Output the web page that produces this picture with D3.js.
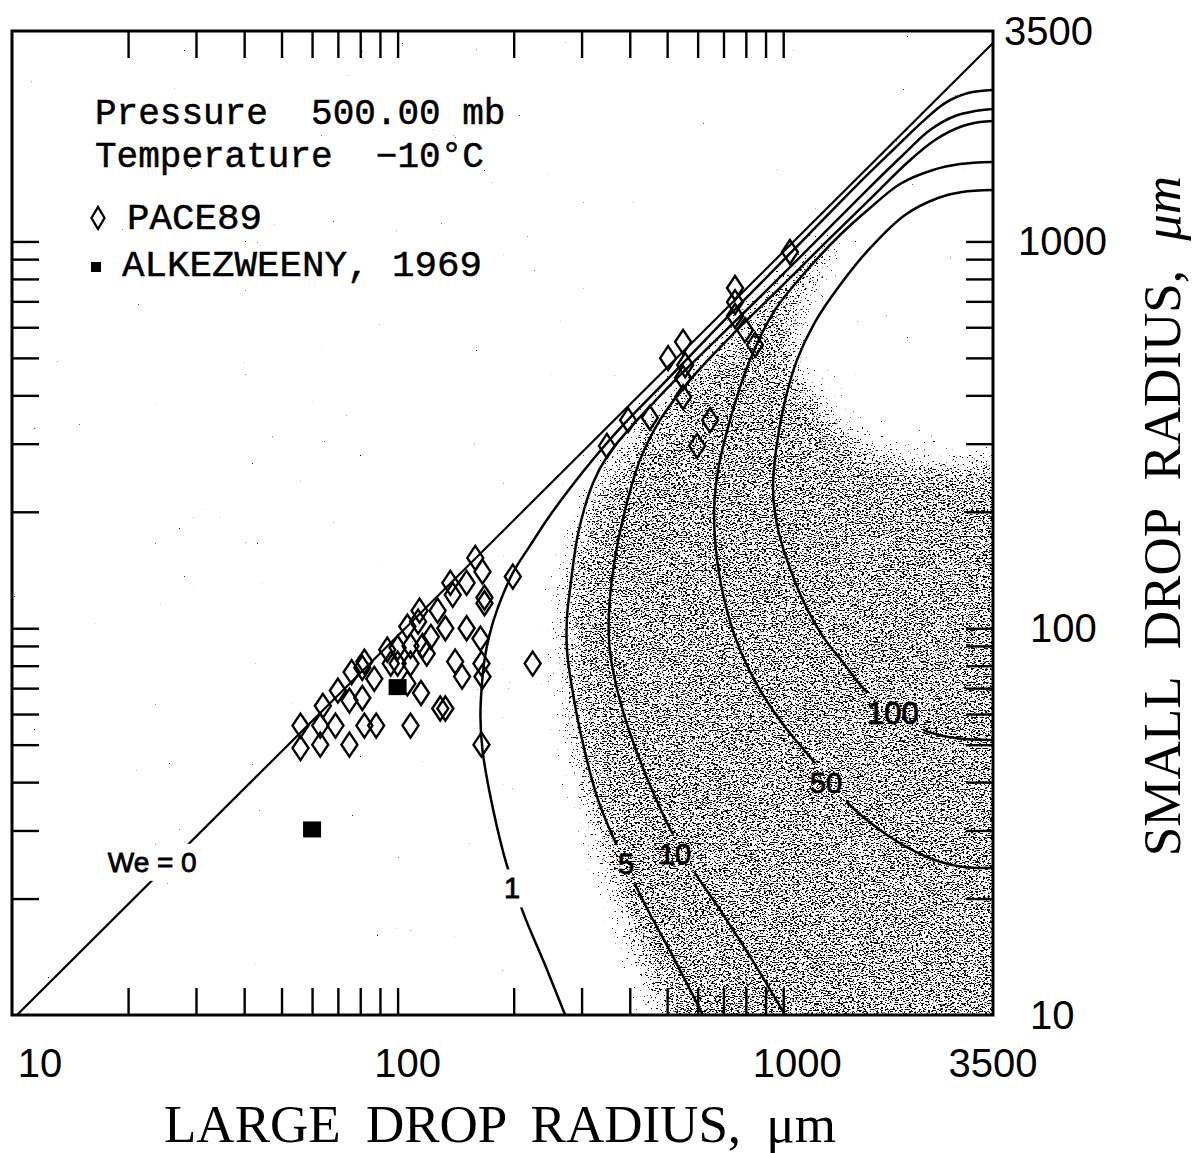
<!DOCTYPE html>
<html>
<head>
<meta charset="utf-8">
<script src="https://cdn.jsdelivr.net/npm/d3@7"></script>
<style>
  html, body { margin: 0; padding: 0; background: #fff; }
  svg { display: block; }
</style>
</head>
<body>
<svg id="chart" width="1196" height="1153"></svg>
<script>
// ---------------- data (radii in micrometres) ----------------
const radiusDomain = [10, 3500];
const minorTicks = [20, 30, 40, 50, 60, 70, 80, 90, 100, 200, 300, 400, 500, 600, 700, 800, 900, 1000];
const xTickLabels = ["10", "100", "1000", "3500"];
const yTickLabels = ["10", "100", "1000", "3500"];

// Weber-number contours: [large drop radius, small drop radius]
const weZero = [[10.3, 10], [3500, 3260]];
const weOne = [[272, 10], [241, 13.5], [213, 18.1], [192, 24.4], [177, 33.9], [166, 48.4], [164, 58.9], [165, 69.2],
  [168, 82.8], [173, 96], [182, 113], [199, 139], [221, 164], [246, 193], [280, 230], [323, 275], [384, 335],
  [491, 431], [646, 573], [866, 772], [1160, 1039], [1554, 1399], [1950, 1744], [2291, 2035], [2628, 2279],
  [3015, 2419], [3500, 2463]];
const weFive = [[619, 10], [515, 14.3], [438, 19.3], [375, 26.7], [331, 36], [301, 51.4], [282, 72.2], [275, 87.8],
  [275, 107], [280, 126], [294, 176], [321, 237], [351, 280], [396, 325], [460, 382], [540, 451], [678, 563],
  [908, 749], [1224, 1008], [1629, 1342], [2045, 1673], [2403, 1941], [2790, 2110], [3145, 2174], [3500, 2200]];
const weTen = [[1011, 10], [830, 13.9], [686, 18.7], [584, 23.7], [503, 31], [425, 45.6], [377, 65.2], [355, 87.8],
  [353, 107], [364, 146], [389, 202], [425, 272], [479, 345], [573, 438], [728, 566], [969, 749], [1291, 996],
  [1700, 1302], [2107, 1605], [2476, 1829], [2874, 1976], [3239, 2035], [3500, 2048]];
const weFifty = [[3500, 1605], [2874, 1585], [2447, 1530], [2009, 1408], [1680, 1220], [1404, 1039], [1153, 843],
  [952, 665], [820, 494], [728, 345], [678, 257], [662, 202], [674, 150], [715, 111], [773, 87.8], [871, 69.2],
  [1011, 55.5], [1173, 46.5], [1499, 34.7], [1782, 30.1], [2132, 26.9], [2550, 24.9], [2962, 24.1], [3500, 24.0]];
const weHundred = [[3500, 1358], [2909, 1342], [2521, 1295], [2070, 1171], [1680, 961], [1404, 772], [1209, 619],
  [1086, 494], [1005, 378], [958, 289], [941, 228], [964, 185], [1023, 150], [1126, 118], [1261, 96], [1447, 80.3],
  [1649, 68.4], [2305, 54.6], [2790, 52], [3500, 51.4]];

// contour labels: text and the point on the curve where it sits
const contourLabels = [
  { text: "We = 0", R: 23.1, r: 24.9, size: 28 },
  { text: "1", R: 198, r: 21.3, size: 29 },
  { text: "5", R: 391, r: 24.6, size: 29 },
  { text: "10", R: 524, r: 26.2, size: 29 },
  { text: "50", R: 1291, r: 40.0, size: 29 },
  { text: "100", R: 1926, r: 60.4, size: 31 }
];

// stippled zone outline
const stippleZone = [[500, 8], [465, 10], [401, 13.9], [345, 21.1], [306, 31.9], [277, 48.4], [264, 69.2], [258, 93.2],
  [261, 126], [273, 164], [297, 208], [335, 257], [389, 307], [479, 394], [608, 508], [773, 645], [981, 819],
  [1209, 996], [1404, 1083], [1362, 885], [1209, 706], [1106, 556], [1160, 460], [1362, 367], [1680, 307],
  [2132, 285], [3500, 275], [5000, 275], [5000, 8]];

// PACE89 observations
const pace89 = [[159, 152], [166, 140], [137, 131], [151, 131], [139, 122], [199, 136], [168, 120], [168, 116],
  [114, 111], [127, 111], [106, 101], [113, 104], [133, 100], [151, 100], [122, 95], [164, 94], [94, 88], [100, 89],
  [108, 90], [116, 90], [119, 86], [82, 82], [87, 74], [76, 77], [81, 79], [96, 81], [100, 81], [108, 81], [141, 82],
  [165, 81], [147, 75], [166, 75], [70, 69], [64, 63], [75, 65], [81, 66], [115, 68], [106, 72], [56, 56], [63, 56],
  [69, 56], [82, 56], [88, 56], [129, 62], [133, 62], [108, 56], [56, 49], [63, 50], [75, 50], [165, 50], [224, 81],
  [1041, 939], [750, 758], [750, 697], [750, 642], [796, 590], [845, 540], [503, 499], [550, 550], [557, 479],
  [550, 444], [550, 396], [646, 345], [598, 296], [396, 345], [451, 350], [349, 296]];

// Alkezweeny (1969) observations
const alkezweeny = [[60, 30], [100, 70]];

const legendLines = ["Pressure  500.00 mb", "Temperature  −10°C"];
const seriesNames = ["PACE89", "ALKEZWEENY, 1969"];

// ---------------- layout ----------------
const svg = d3.select("#chart");
const plot = { left: 12, right: 993, top: 31, bottom: 1015 };
const x = d3.scaleLog().domain(radiusDomain).range([plot.left, plot.right]);
const y = d3.scaleLog().domain(radiusDomain).range([plot.bottom, plot.top]);

const defs = svg.append("defs");
defs.append("clipPath").attr("id", "plot-clip")
  .append("rect").attr("x", plot.left).attr("y", plot.top)
  .attr("width", plot.right - plot.left).attr("height", plot.bottom - plot.top);

// grainy stipple: noise thresholded against a softened copy of the zone,
// so the dots thin out gradually towards the zone's edge
const stipple = defs.append("filter").attr("id", "stipple")
  .attr("filterUnits", "userSpaceOnUse").attr("x", 0).attr("y", 0)
  .attr("width", 1196).attr("height", 1153)
  .attr("color-interpolation-filters", "sRGB");
stipple.append("feGaussianBlur").attr("in", "SourceAlpha").attr("stdDeviation", 16).attr("result", "soft");
stipple.append("feTurbulence").attr("type", "fractalNoise").attr("baseFrequency", "0.42 0.85")
  .attr("numOctaves", 2).attr("seed", 7).attr("result", "noise");
stipple.append("feColorMatrix").attr("in", "noise").attr("type", "matrix")
  .attr("values", "0 0 0 0 0  0 0 0 0 0  0 0 0 0 0  1 0 0 0 0").attr("result", "grain");
stipple.append("feComposite").attr("in", "grain").attr("in2", "soft").attr("operator", "arithmetic")
  .attr("k1", 0).attr("k2", 22).attr("k3", 7.1).attr("k4", -18.9);

svg.append("rect").attr("width", 1196).attr("height", 1153).attr("fill", "#fff");

const zoneLine = d3.line().x(d => x(d[0])).y(d => y(d[1])).curve(d3.curveCatmullRomClosed.alpha(0.5));
svg.append("g").attr("clip-path", "url(#plot-clip)")
  .append("path").attr("d", zoneLine(stippleZone))
  .attr("fill", "#000").attr("filter", "url(#stipple)");

// ---------------- contour labels (drawn first so their boxes cut the curves) ----------------
const labelG = svg.append("g");
const labelNodes = labelG.selectAll("text").data(contourLabels).join("text")
  .attr("x", d => x(d.R)).attr("y", d => y(d.r))
  .attr("dy", "0.36em")
  .attr("text-anchor", "middle")
  .attr("font-family", "'Liberation Sans', Arial, sans-serif")
  .attr("font-size", d => d.size)
  .attr("fill", "#000").attr("stroke", "#000").attr("stroke-width", 0.8)
  .attr("xml:space", "preserve").style("white-space", "pre")
  .text(d => d.text);

const gapMask = defs.append("mask").attr("id", "label-gaps")
  .attr("maskUnits", "userSpaceOnUse").attr("x", 0).attr("y", 0).attr("width", 1196).attr("height", 1153);
gapMask.append("rect").attr("width", 1196).attr("height", 1153).attr("fill", "#fff");
labelNodes.each(function () {
  const b = this.getBBox();
  gapMask.append("rect").attr("x", b.x - 4).attr("y", b.y - 3)
    .attr("width", b.width + 8).attr("height", b.height + 6).attr("fill", "#000");
});

// ---------------- curves ----------------
const curveLine = d3.line().x(d => x(d[0])).y(d => y(d[1])).curve(d3.curveCatmullRom.alpha(0.5));
const curveG = svg.append("g").attr("clip-path", "url(#plot-clip)")
  .append("g").attr("mask", "url(#label-gaps)");
curveG.append("path").attr("d", d3.line().x(d => x(d[0])).y(d => y(d[1]))(weZero))
  .attr("fill", "none").attr("stroke", "#000").attr("stroke-width", 2.2);
curveG.selectAll("path.we").data([weOne, weFive, weTen, weFifty, weHundred]).join("path")
  .attr("class", "we").attr("d", curveLine)
  .attr("fill", "none").attr("stroke", "#000").attr("stroke-width", 2.5);

// ---------------- points ----------------
const diamond = "M0,-12L8,0L0,12L-8,0Z";
svg.append("g").selectAll("path").data(pace89).join("path")
  .attr("d", diamond).attr("transform", d => `translate(${x(d[0])},${y(d[1])})`)
  .attr("fill", "none").attr("stroke", "#000").attr("stroke-width", 2.4);
svg.append("g").selectAll("rect").data(alkezweeny).join("rect")
  .attr("x", d => x(d[0]) - 9).attr("y", d => y(d[1]) - 9)
  .attr("width", 18).attr("height", 16).attr("fill", "#000");

// ---------------- ticks (inward on all four sides) ----------------
function ticks(g) {
  g.select(".domain").remove();
  g.selectAll(".tick line").attr("stroke", "#000").attr("stroke-width", 2.4);
  g.selectAll(".tick text").remove();
}
svg.append("g").attr("transform", `translate(0,${plot.bottom})`)
  .call(d3.axisBottom(x).tickValues(minorTicks).tickSize(-27).tickSizeOuter(0)).call(ticks);
svg.append("g").attr("transform", `translate(0,${plot.top})`)
  .call(d3.axisTop(x).tickValues(minorTicks).tickSize(-27).tickSizeOuter(0)).call(ticks);
svg.append("g").attr("transform", `translate(${plot.left},0)`)
  .call(d3.axisLeft(y).tickValues(minorTicks).tickSize(-27).tickSizeOuter(0)).call(ticks);
svg.append("g").attr("transform", `translate(${plot.right},0)`)
  .call(d3.axisRight(y).tickValues(minorTicks).tickSize(-27).tickSizeOuter(0)).call(ticks);

svg.append("rect").attr("x", plot.left).attr("y", plot.top)
  .attr("width", plot.right - plot.left).attr("height", plot.bottom - plot.top)
  .attr("fill", "none").attr("stroke", "#000").attr("stroke-width", 3);

// ---------------- tick labels ----------------
const sans = "'Liberation Sans', Arial, sans-serif";
const xNudge = { "10": 28, "100": 10, "1000": 14, "3500": 0 };
svg.append("g").selectAll("text").data(xTickLabels).join("text")
  .attr("x", d => x(+d) + xNudge[d]).attr("y", 1077)
  .attr("text-anchor", "middle").attr("font-family", sans).attr("font-size", 40)
  .text(d => d);
const yLabelX = { "10": 1030, "100": 1030, "1000": 1018, "3500": 1004 };
svg.append("g").selectAll("text").data(yTickLabels).join("text")
  .attr("x", d => yLabelX[d]).attr("y", d => y(+d) + 14)
  .attr("font-family", sans).attr("font-size", 40)
  .text(d => d);

// ---------------- axis titles ----------------
const serif = "'Liberation Serif', 'Times New Roman', serif";
svg.append("text").attr("x", 500).attr("y", 1142).attr("text-anchor", "middle")
  .attr("font-family", serif).attr("font-size", 53).attr("word-spacing", 12)
  .text("LARGE DROP RADIUS, μm");
const yTitle = svg.append("text").attr("transform", "translate(1180,516) rotate(-90)")
  .attr("text-anchor", "middle").attr("font-family", serif).attr("font-size", 53).attr("word-spacing", 16);
yTitle.append("tspan").text("SMALL DROP RADIUS, ");
yTitle.append("tspan").attr("font-style", "italic").text("μm");

// ---------------- legend ----------------
const mono = "'Liberation Mono', 'Courier New', monospace";
svg.append("g").selectAll("text").data(legendLines).join("text")
  .attr("x", 95).attr("y", (d, i) => 124 + i * 43)
  .attr("font-family", mono).attr("font-size", 36)
  .attr("stroke", "#000").attr("stroke-width", 0.5)
  .attr("xml:space", "preserve").style("white-space", "pre")
  .text(d => d);
svg.append("path").attr("d", "M0,-11L6.5,0L0,11L-6.5,0Z").attr("transform", "translate(98,218)")
  .attr("fill", "none").attr("stroke", "#000").attr("stroke-width", 2.3);
svg.append("rect").attr("x", 91).attr("y", 262).attr("width", 10).attr("height", 10).attr("fill", "#000");
svg.append("g").selectAll("text").data(seriesNames).join("text")
  .attr("x", (d, i) => i === 0 ? 127 : 122).attr("y", (d, i) => 229 + i * 47)
  .attr("font-family", mono).attr("font-size", 37.5)
  .attr("stroke", "#000").attr("stroke-width", 0.5)
  .text(d => d);
</script>
</body>
</html>
